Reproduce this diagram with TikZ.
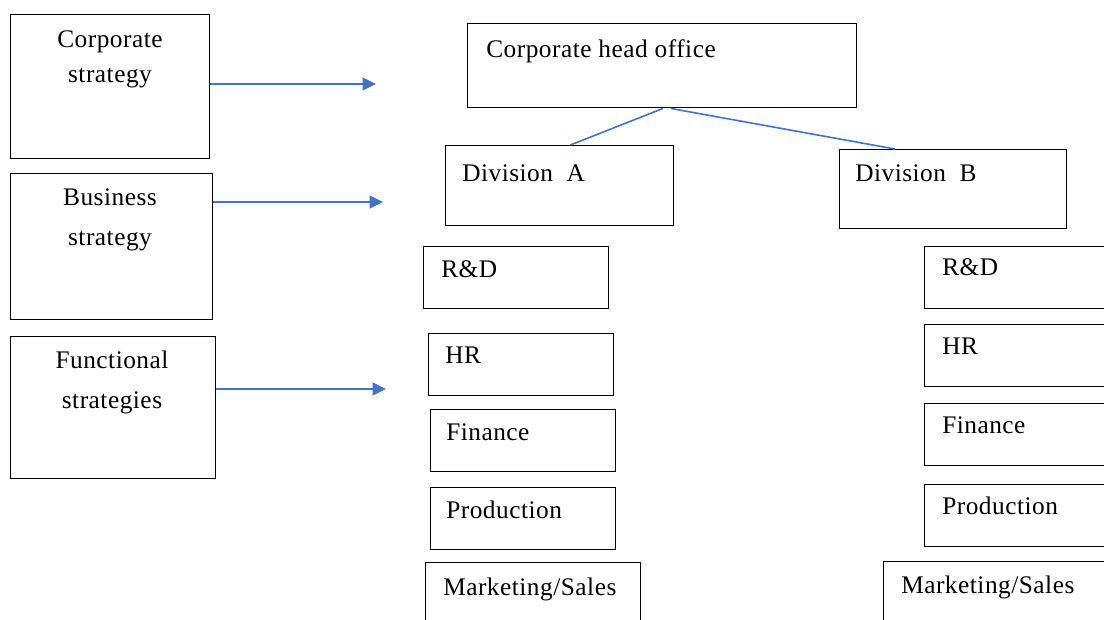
\documentclass[tikz,border=0pt]{standalone}
\usepackage{fontspec}
\setmainfont[LetterSpace=2]{Liberation Serif}
\usetikzlibrary{arrows.meta}
\definecolor{linkblue}{HTML}{4472C4}
\begin{document}
\begin{tikzpicture}[x=0.75pt,y=-0.75pt,
  box/.style={draw=black,line width=1.1pt,anchor=north west,inner sep=0pt},
  lbl/.style={font=\fontsize{19}{23}\selectfont,inner sep=0pt,anchor=base west},
  clbl/.style={font=\fontsize{19}{23}\selectfont,inner sep=0pt,anchor=base},
  link/.style={draw=linkblue,line width=1.2pt},
  arr/.style={link,-{Triangle[length=10pt,width=9.5pt]}}]
\path[use as bounding box] (0,0) rectangle (1104,619);
\clip (0,0) rectangle (1104,619);
% left boxes
\node[box,minimum width=149.25pt,minimum height=108pt] (cs) at (10,14) {};
\node[clbl] (cst1) at (110,47) {Corporate};
\node[clbl] (cst2) at (110,82) {strategy};
\node[box,minimum width=151.5pt,minimum height=109.5pt] (bs) at (10,173) {};
\node[clbl] (bst1) at (110,205) {Business};
\node[clbl] (bst2) at (110,245) {strategy};
\node[box,minimum width=153.75pt,minimum height=106.5pt] (fs) at (10,336) {};
\node[clbl] (fst1) at (112,368) {Functional};
\node[clbl] (fst2) at (112,408) {strategies};
% arrows
\coordinate (a1) at (376,84);
\coordinate (a2) at (383,202);
\coordinate (a3) at (386,389);
\draw[arr] (cs.east |- a1) -- (a1);
\draw[arr] (bs.east |- a2) -- (a2);
\draw[arr] (fs.east |- a3) -- (a3);
% head office and divisions
\node[box,minimum width=291.75pt,minimum height=63pt] (hq) at (467,23) {};
\node[lbl] (hqt) at (486,57) {Corporate head office};
\node[box,minimum width=171pt,minimum height=60pt] (divA) at (445,145) {};
\node[lbl] (divAt) at (462,181) {Division\ \ A};
\node[box,minimum width=170.25pt,minimum height=59.25pt] (divB) at (839,149) {};
\node[lbl] (divBt) at (855,181) {Division\ \ B};
\draw[link] ([xshift=0.5pt]hq.south) -- ([xshift=8pt]divA.north);
\draw[link] ([xshift=6.5pt]hq.south) -- ([xshift=42pt]divB.north west);
% division A functions
\node[box,minimum width=138.75pt,minimum height=46.5pt] (rdA) at (423,246) {};
\node[lbl] (rdAt) at (441,277) {R\&D};
\node[box,minimum width=138.75pt,minimum height=46.5pt] (hrA) at (428,333) {};
\node[lbl] (hrAt) at (445,363) {HR};
\node[box,minimum width=138.75pt,minimum height=46.5pt] (fiA) at (430,409) {};
\node[lbl] (fiAt) at (446,440) {Finance};
\node[box,minimum width=138.75pt,minimum height=46.5pt] (prA) at (430,487) {};
\node[lbl] (prAt) at (446,518) {Production};
\node[box,minimum width=161.25pt,minimum height=60pt] (msA) at (425,562) {};
\node[lbl] (msAt) at (443,595) {Marketing/Sales};
% division B functions
\node[box,minimum width=150pt,minimum height=46.5pt] (rdB) at (924,246) {};
\node[lbl] (rdBt) at (942,275) {R\&D};
\node[box,minimum width=150pt,minimum height=46.5pt] (hrB) at (924,324) {};
\node[lbl] (hrBt) at (942,354) {HR};
\node[box,minimum width=150pt,minimum height=46.5pt] (fiB) at (924,403) {};
\node[lbl] (fiBt) at (942,433) {Finance};
\node[box,minimum width=150pt,minimum height=46.5pt] (prB) at (924,484) {};
\node[lbl] (prBt) at (942,514) {Production};
\node[box,minimum width=180pt,minimum height=60pt] (msB) at (883,561) {};
\node[lbl] (msBt) at (901,593) {Marketing/Sales};
\end{tikzpicture}
\end{document}
